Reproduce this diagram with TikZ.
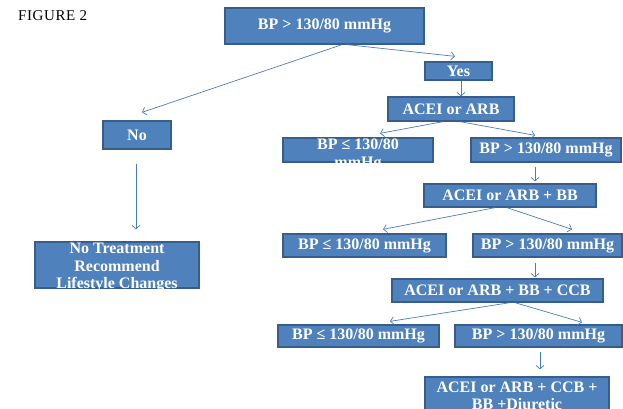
\documentclass[tikz,border=0pt]{standalone}
\usepackage{fontspec}
\setmainfont{Liberation Serif}
\usetikzlibrary{arrows.meta}
\definecolor{boxfill}{HTML}{4F81BD}
\definecolor{boxdraw}{HTML}{385D8A}
\definecolor{arrcol}{HTML}{4A7EBB}
\begin{document}
\begin{tikzpicture}[x=1pt,y=-1pt,
  box/.style={draw=boxdraw, line width=1.3pt, fill=boxfill, text=white,
    font=\bfseries\fontsize{16}{17.5}\selectfont, inner sep=0pt, align=center},
  boxtext/.style={text=white, font=\bfseries\fontsize{16}{17.5}\selectfont, inner sep=0pt, align=center},
  arr/.style={draw=arrcol, line width=0.7pt, -{Straight Barb[length=3.5pt,width=8pt]}}]
\useasboundingbox (0,0) rectangle (623,409);
\clip (0,0) rectangle (623,409);

\node[font=\fontsize{15}{17}\selectfont\addfontfeature{LetterSpace=4}, anchor=west, inner sep=0pt] (fig) at (18,16) {FIGURE 2};

\node[box, minimum width=199pt, minimum height=36pt] (top) at (324.5,26) {BP > 130/80 mmHg};
\node[box, minimum width=67pt, minimum height=18pt] (yes) at (458.5,71) {Yes};
\node[box, minimum width=126pt, minimum height=24pt] (acei1) at (451,109) {ACEI or ARB};
\node[box, minimum width=150pt, minimum height=24pt] (le1) at (358,150) {};
\begin{scope}
  \clip (283,134) rectangle (433,162.5);
  \node[boxtext] (le1t) at ([yshift=-5pt]le1.center) {BP ≤ 130/80\\mmHg};
\end{scope}
\node[box, minimum width=150pt, minimum height=24pt] (gt1) at (546,150) {BP > 130/80 mmHg};
\node[box, minimum width=68pt, minimum height=28pt] (no) at (137,135) {No};
\node[box, minimum width=164pt, minimum height=46pt] (notreat) at (117,265) {};
\begin{scope}
  \clip (35,238) rectangle (199,288.5);
  \node[boxtext] (notreatt) at ([yshift=-3pt]notreat.center) {No Treatment\\Recommend\\Lifestyle Changes};
\end{scope}
\node[box, minimum width=172pt, minimum height=23pt] (acei2) at (510,195.5) {ACEI or ARB + BB};
\node[box, minimum width=163pt, minimum height=23pt] (le2) at (364.5,245.5) {BP ≤ 130/80 mmHg};
\node[box, minimum width=149pt, minimum height=23pt] (gt2) at (547.5,245.5) {BP > 130/80 mmHg};
\node[box, minimum width=211pt, minimum height=23pt] (acei3) at (497.5,290.5) {ACEI or ARB + BB + CCB};
\node[box, minimum width=161pt, minimum height=22pt] (le3) at (358.5,336) {BP ≤ 130/80 mmHg};
\node[box, minimum width=167pt, minimum height=22pt] (gt3) at (538.5,336) {BP > 130/80 mmHg};
\node[box, minimum width=184pt, minimum height=38pt] (acei4) at (517,396) {ACEI or ARB + CCB +\\BB +Diuretic};

\draw[arr] ([xshift=17.5pt]top.south) -- ([xshift=5pt,yshift=8pt]no.north);
\draw[arr] ([xshift=22.5pt]top.south) -- ([xshift=-3.5pt,yshift=5pt]yes.north);
\draw[arr] ([xshift=2.5pt]yes.south) -- ([xshift=2.5pt]yes.south |- acei1.north);
\draw[arr] ([xshift=-8pt]acei1.south) -- ([xshift=22pt,yshift=4pt]le1.north);
\draw[arr] ([xshift=9pt]acei1.south) -- ([xshift=-11pt,yshift=2pt]gt1.north);
\draw[arr] ([xshift=-1pt,yshift=-14pt]no.south) -- ([xshift=19pt,yshift=12pt]notreat.north);
\draw[arr] ([xshift=-11pt,yshift=-4pt]gt1.south) -- ([xshift=25pt,yshift=2pt]acei2.north);
\draw[arr] ([xshift=-15pt]acei2.south) -- ([xshift=18.5pt,yshift=4pt]le2.north);
\draw[arr] ([xshift=-3pt]acei2.south) -- ([xshift=24.5pt,yshift=4pt]gt2.north);
\draw[arr] ([xshift=-12.5pt,yshift=-5pt]gt2.south) -- ([xshift=37.5pt,yshift=1pt]acei3.north);
\draw[arr] ([xshift=12.5pt]acei3.south) -- ([xshift=31.5pt,yshift=3pt]le3.north);
\draw[arr] ([xshift=17.5pt]acei3.south) -- ([xshift=43.5pt,yshift=2pt]gt3.north);
\draw[arr] ([xshift=1.5pt,yshift=-4pt]gt3.south) -- ([xshift=23pt,yshift=7pt]acei4.north);
\end{tikzpicture}
\end{document}
